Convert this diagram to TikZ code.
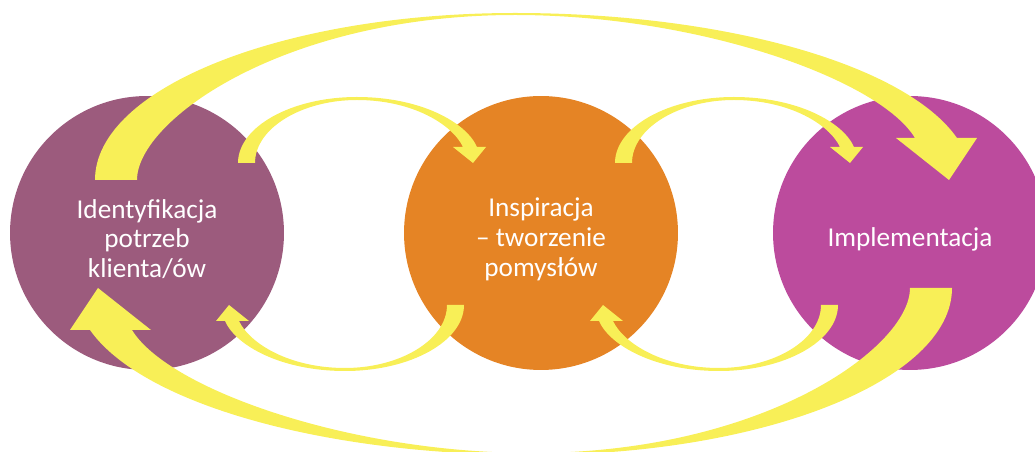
\documentclass[tikz,border=0pt]{standalone}
\usepackage{fontspec}
\setmainfont{Carlito}
\usetikzlibrary{positioning}
\definecolor{identcol}{HTML}{9C5B7D}
\definecolor{inspcol}{HTML}{E58425}
\definecolor{implcol}{HTML}{BC4B9D}
\definecolor{loopyellow}{HTML}{F8EF57}
\tikzset{
  stage/.style={circle,minimum size=5.48cm,inner sep=0pt},
  stagetext/.style={text=white,align=center,font=\fontsize{15.5}{17}\selectfont},
  loopfill/.style={fill=loopyellow},
}

\begin{document}
\begin{tikzpicture}[x=0.02cm,y=-0.02cm]
\tikzset{
  smallloop/.pic={\fill[loopfill] (238,163) .. controls (238,127) and (291,97) .. (357,97)
      .. controls (420,97) and (466,122) .. (477,147)
      -- (486,147) -- (473,163) -- (453,147) -- (463,147)
      .. controls (452,124) and (412,100) .. (357,100)
      .. controls (302,100) and (255,128) .. (255,163) -- cycle;},
  bigloop/.pic={\fill[loopfill] (95,180) .. controls (95,88) and (283,13) .. (515,13)
      .. controls (723,13) and (905,64) .. (957,138)
      -- (977,138) -- (949,180) -- (896,138) -- (915,138)
      .. controls (880,80) and (700,15) .. (515,15)
      .. controls (285,15) and (137,120) .. (137,180) -- cycle;},
}
\useasboundingbox (0,0) rectangle (1035,452);
% stages
\node[stage,fill=identcol] (ident) at (147,233) {};
\node[stage,fill=inspcol] (insp) at (541,233) {};
\node[stage,fill=implcol] (impl) at (910,233) {};
\node[stagetext] (ident-t) at (147,239) {Identyfikacja\\potrzeb\\klienta/ów};
\node[stagetext] (insp-t) at (541,239) {Inspiracja\\– tworzenie\\pomysłów};
\node[stagetext] (impl-t) at (910,239) {Implementacja};
% loops between neighbours
\pic at (0,0) {smallloop};
\pic[shift={(377,0)}] at (0,0) {smallloop};
\pic[rotate around={180:(351,234)}] at (0,0) {smallloop};
\pic[rotate around={180:(538,234)}] at (0,0) {smallloop};
% outer loop
\pic at (0,0) {bigloop};
\pic[rotate around={180:(523.5,234)}] at (0,0) {bigloop};
\end{tikzpicture}
\end{document}
